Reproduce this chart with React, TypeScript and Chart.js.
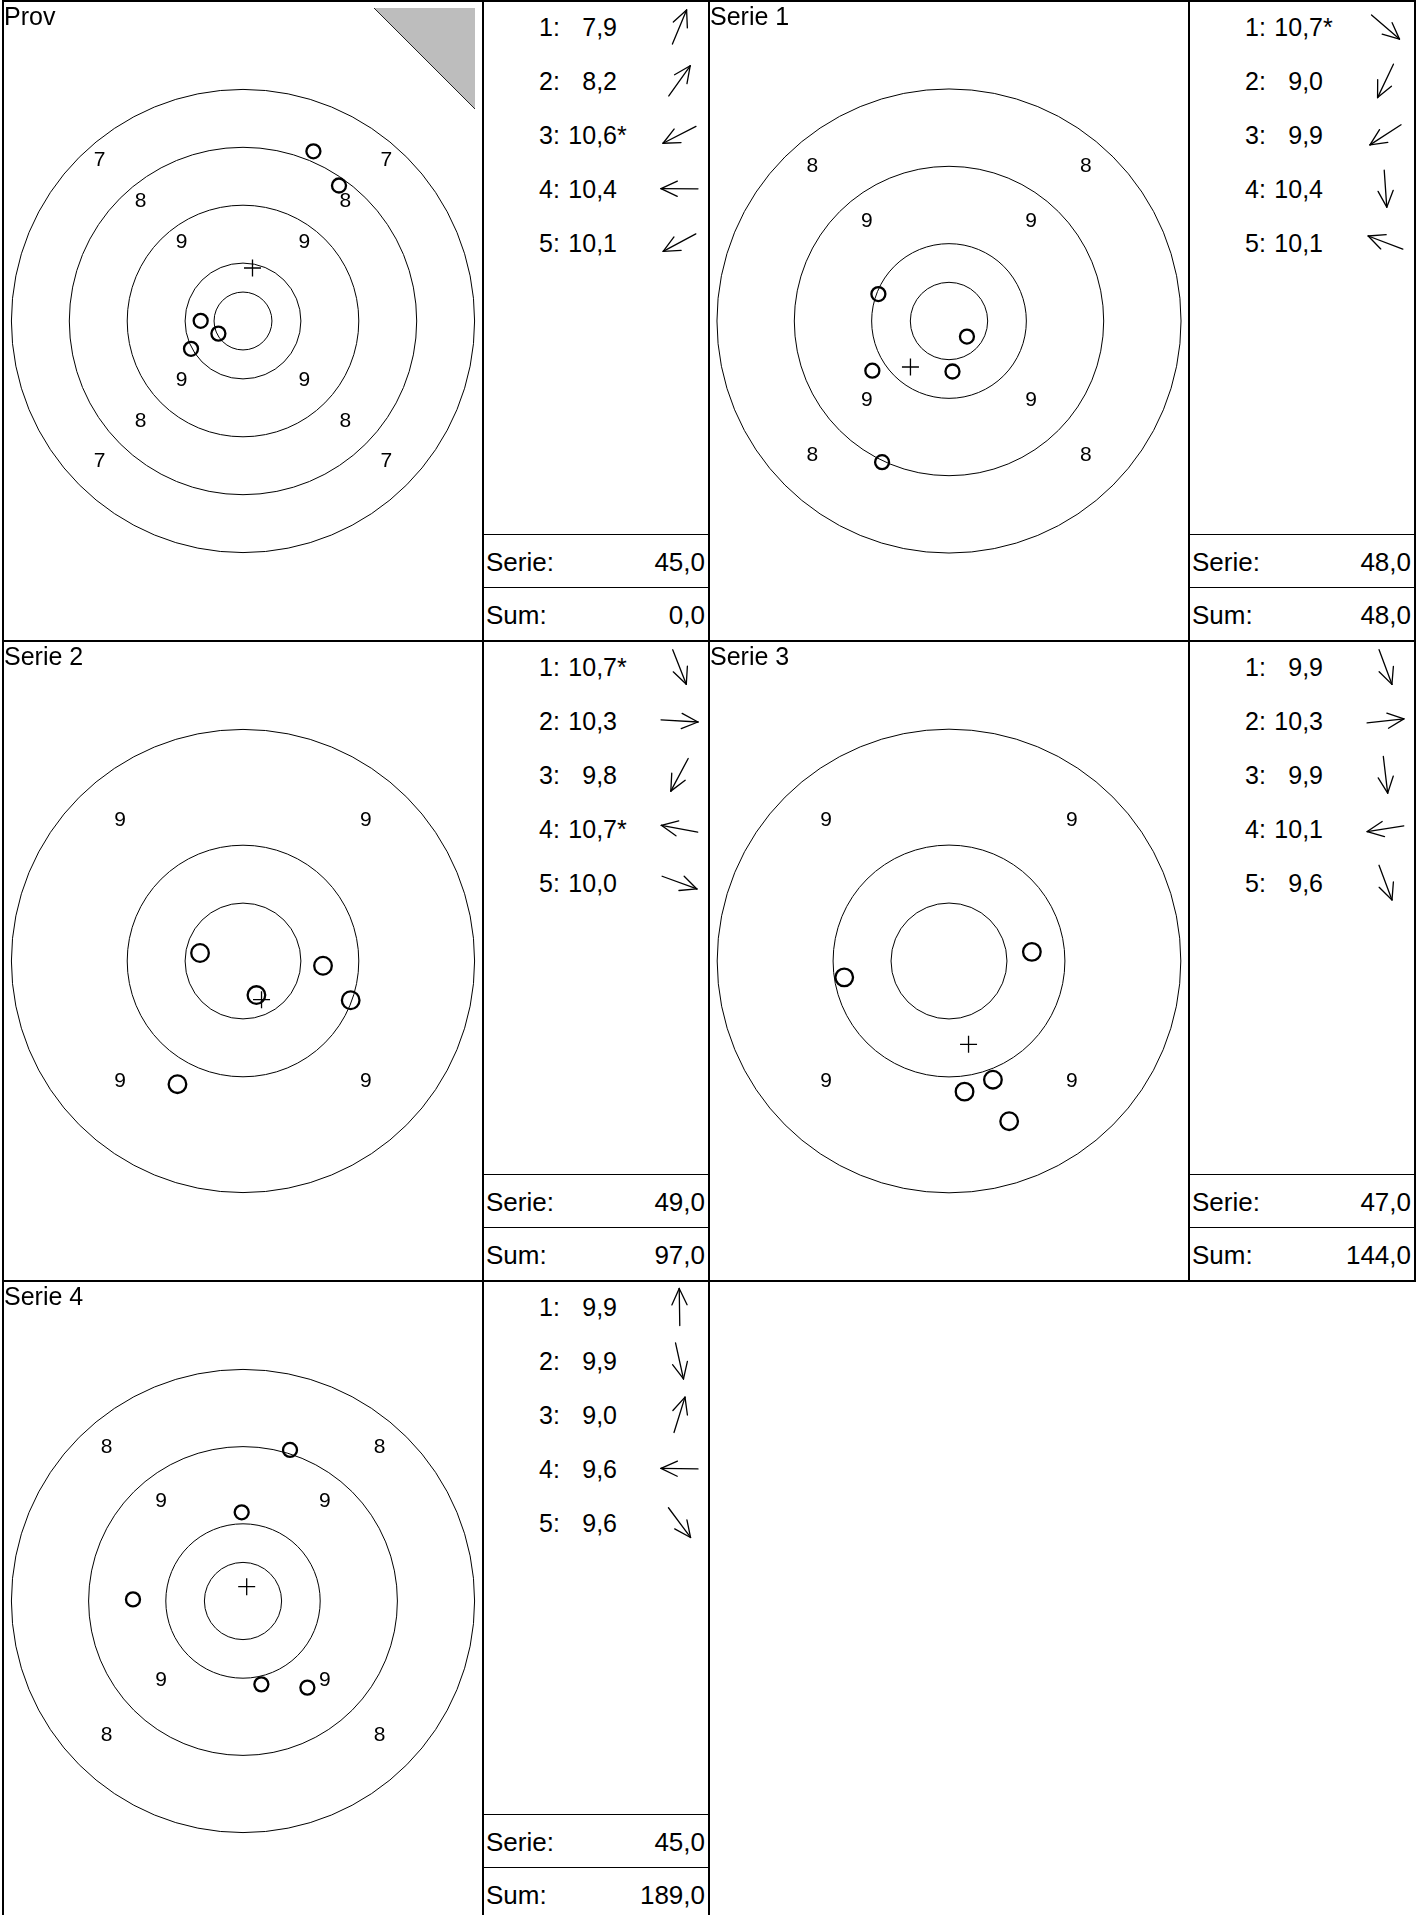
import React, { useEffect, useRef } from "react";
import { Chart, registerables } from "chart.js";

Chart.register(...registerables);

// ---------------- data ----------------
const panelTitles = ["Prov", "Serie 1", "Serie 2", "Serie 3", "Serie 4"];
const shotNumbers = [1, 2, 3, 4, 5];

const shotScores = [
  [7.9, 8.2, 10.6, 10.4, 10.1],
  [10.7, 9.0, 9.9, 10.4, 10.1],
  [10.7, 10.3, 9.8, 10.7, 10.0],
  [9.9, 10.3, 9.9, 10.1, 9.6],
  [9.9, 9.9, 9.0, 9.6, 9.6],
];
const innerTenHits = [
  [false, false, true, false, false],
  [true, false, false, false, false],
  [true, false, false, true, false],
  [false, false, false, false, false],
  [false, false, false, false, false],
];
// shot positions in ring widths from the centre (x right, y up)
const shotX = [
  [1.216, 1.658, -0.425, -0.731, -0.898],
  [0.232, -0.865, -0.991, 0.045, -0.913],
  [0.116, 0.691, -0.566, -0.371, 0.93],
  [0.379, 0.715, 0.134, -0.904, 0.519],
  [-0.017, 0.238, 0.609, -1.425, 0.834],
];
const shotY = [
  [2.931, 2.34, -0.218, 0.003, -0.48],
  [-0.201, -1.825, -0.642, -0.653, 0.348],
  [-0.294, -0.041, -1.064, 0.069, -0.339],
  [-1.024, 0.079, -1.127, -0.141, -1.382],
  [1.149, -1.08, 1.957, 0.021, -1.122],
];
const serieTotals = [45.0, 48.0, 49.0, 47.0, 45.0];
const runningSums = [0.0, 48.0, 97.0, 144.0, 189.0];
const lowestRing = [7, 8, 9, 9, 8];
const viewHalfWidth = [4.128, 3.09, 2.064, 2.062, 3.096];
const sighterPanels = [true, false, false, false, false];
const innerTenRadius = 0.5;

// ---------------- styles ----------------
const FONT = "'Liberation Sans', Arial, Helvetica, sans-serif";
const PANEL_W = 706;
const PANEL_H = 640;
const CANVAS_W = 478;
const CANVAS_H = 638;
const markerRadius = [7, 7, 8.8, 8.8, 7];

const fmt = (v: number) => v.toFixed(1).replace(".", ",");
const avg = (a: number[]) => a.reduce((s, v) => s + v, 0) / a.length;

const targetPlugin = {
  id: "target",
  beforeDatasetsDraw(chart: any, _args: any, opts: any) {
    const { ctx, chartArea, scales } = chart;
    const xs = scales.x;
    const ys = scales.y;
    const cx = xs.getPixelForValue(0);
    const cy = ys.getPixelForValue(0);
    ctx.save();
    if (opts.sighter) {
      const R = chartArea.right;
      const T = chartArea.top;
      ctx.beginPath();
      ctx.moveTo(R - 108, T + 6);
      ctx.lineTo(R - 7, T + 6);
      ctx.lineTo(R - 7, T + 107);
      ctx.closePath();
      ctx.fillStyle = "#bdbdbd";
      ctx.fill();
      ctx.beginPath();
      ctx.moveTo(R - 108, T + 6);
      ctx.lineTo(R - 7, T + 107);
      ctx.strokeStyle = "#222";
      ctx.lineWidth = 1;
      ctx.stroke();
    }
    ctx.strokeStyle = "#000";
    ctx.lineWidth = 1;
    const radii: number[] = [];
    for (let n = opts.lowest; n <= 10; n++) radii.push(11 - n);
    radii.push(innerTenRadius);
    radii.forEach((r) => {
      const rx = xs.getPixelForValue(r) - cx;
      const ry = cy - ys.getPixelForValue(r);
      ctx.beginPath();
      ctx.ellipse(cx, cy, rx, ry, 0, 0, Math.PI * 2);
      ctx.stroke();
    });
    ctx.fillStyle = "#000";
    ctx.font = `21px ${FONT}`;
    ctx.textAlign = "center";
    ctx.textBaseline = "middle";
    for (let n = opts.lowest; n <= 9; n++) {
      const m = (10.5 - n) * Math.SQRT1_2;
      for (const sx of [-1, 1]) {
        for (const sy of [1, -1]) {
          const px = xs.getPixelForValue(sx * m);
          const py = ys.getPixelForValue(sy * m) + (sy > 0 ? -17.7 : -2.6);
          ctx.fillText(String(n), px, py);
        }
      }
    }
    ctx.restore();
  },
};

function TargetChart({ idx }: { idx: number }) {
  const ref = useRef<HTMLCanvasElement>(null);
  useEffect(() => {
    const canvas = ref.current as HTMLCanvasElement;
    const hw = viewHalfWidth[idx];
    const hh = (hw * CANVAS_H) / CANVAS_W;
    const shots = shotX[idx].map((x, i) => ({ x, y: shotY[idx][i] }));
    const mean = { x: avg(shotX[idx]), y: avg(shotY[idx]) };
    const chart = new Chart(canvas, {
      type: "scatter",
      data: {
        datasets: [
          {
            label: "Skudd",
            data: shots,
            pointStyle: "circle",
            pointRadius: markerRadius[idx],
            pointBorderWidth: 2.3,
            pointBorderColor: "#000",
            pointBackgroundColor: "rgba(0,0,0,0)",
            borderColor: "#000",
            backgroundColor: "rgba(0,0,0,0)",
          },
          {
            label: "Treffpunkt",
            data: [mean],
            pointStyle: "cross",
            pointRadius: 8.5,
            pointBorderWidth: 1.3,
            pointBorderColor: "#000",
            borderColor: "#000",
          },
        ],
      } as any,
      options: {
        animation: false,
        responsive: false,
        maintainAspectRatio: false,
        devicePixelRatio: 1,
        events: [],
        layout: { padding: 0, autoPadding: false },
        plugins: {
          legend: { display: false },
          tooltip: { enabled: false },
          title: { display: false },
          target: { lowest: lowestRing[idx], sighter: sighterPanels[idx] },
        } as any,
        scales: {
          x: { type: "linear", min: -hw, max: hw, display: false },
          y: { type: "linear", min: -hh, max: hh, display: false },
        },
      } as any,
      plugins: [targetPlugin],
    });
    return () => chart.destroy();
  }, [idx]);
  return (
    <canvas
      ref={ref}
      width={CANVAS_W}
      height={CANVAS_H}
      style={{ position: "absolute", left: 0, top: 0, width: CANVAS_W, height: CANVAS_H }}
    />
  );
}

function Arrow({ angle, cx, cy }: { angle: number; cx: number; cy: number }) {
  const half = 18.5;
  const head = 18;
  const spread = (25 * Math.PI) / 180;
  const dx = Math.cos(angle);
  const dy = -Math.sin(angle);
  const tx = cx + dx * half;
  const ty = cy + dy * half;
  const sx = cx - dx * half;
  const sy = cy - dy * half;
  const back = Math.atan2(-dy, -dx);
  const h1x = tx + head * Math.cos(back + spread);
  const h1y = ty + head * Math.sin(back + spread);
  const h2x = tx + head * Math.cos(back - spread);
  const h2y = ty + head * Math.sin(back - spread);
  return (
    <g stroke="#000" strokeWidth={1.3} fill="none" strokeLinecap="round">
      <line x1={sx} y1={sy} x2={tx} y2={ty} />
      <line x1={tx} y1={ty} x2={h1x} y2={h1y} />
      <line x1={tx} y1={ty} x2={h2x} y2={h2y} />
    </g>
  );
}

function ScoreTable({ idx }: { idx: number }) {
  const rowY = (i: number) => 25 + 53.9 * i;
  const textStyle: React.CSSProperties = {
    position: "absolute",
    fontFamily: FONT,
    fontSize: 25,
    lineHeight: "30px",
    height: 30,
    color: "#000",
    whiteSpace: "pre",
  };
  return (
    <div style={{ position: "absolute", left: 480, top: 0, width: 224, height: 638 }}>
      {shotNumbers.map((n, i) => (
        <React.Fragment key={n}>
          <div style={{ ...textStyle, left: 55, top: rowY(i) - 15 }}>{`${n}:`}</div>
          <div style={{ ...textStyle, left: 70, width: 63, textAlign: "right", top: rowY(i) - 15 }}>
            {fmt(shotScores[idx][i])}
          </div>
          {innerTenHits[idx][i] ? (
            <div style={{ ...textStyle, left: 133, top: rowY(i) - 15 }}>*</div>
          ) : null}
        </React.Fragment>
      ))}
      <svg width={224} height={300} style={{ position: "absolute", left: 0, top: 0 }}>
        {shotNumbers.map((n, i) => (
          <Arrow
            key={n}
            angle={Math.atan2(shotY[idx][i], shotX[idx][i])}
            cx={195.5}
            cy={rowY(i)}
          />
        ))}
      </svg>
      <div style={{ position: "absolute", left: 0, top: 532, width: 224, height: 1, background: "#000" }} />
      <div style={{ position: "absolute", left: 0, top: 585, width: 224, height: 1, background: "#000" }} />
      <div style={{ ...textStyle, fontSize: 26, left: 2, top: 559.5 - 15 }}>Serie:</div>
      <div style={{ ...textStyle, fontSize: 26, left: 100, width: 121, textAlign: "right", top: 559.5 - 15 }}>
        {fmt(serieTotals[idx])}
      </div>
      <div style={{ ...textStyle, fontSize: 26, left: 2, top: 613 - 15 }}>Sum:</div>
      <div style={{ ...textStyle, fontSize: 26, left: 100, width: 121, textAlign: "right", top: 613 - 15 }}>
        {fmt(runningSums[idx])}
      </div>
    </div>
  );
}

function Panel({ idx }: { idx: number }) {
  const c = idx % 2;
  const r = Math.floor(idx / 2);
  const x0 = 3 + c * PANEL_W;
  const y0 = 1 + r * PANEL_H;
  return (
    <div
      style={{
        position: "absolute",
        left: x0 - 1,
        top: y0 - 1,
        width: PANEL_W + 2,
        height: PANEL_H + 2,
        border: "2px solid #000",
        boxSizing: "border-box",
        background: "#fff",
      }}
    >
      <TargetChart idx={idx} />
      <div
        style={{
          position: "absolute",
          left: 0,
          top: 2,
          fontFamily: FONT,
          fontSize: 25,
          lineHeight: "25px",
          color: "#000",
          whiteSpace: "pre",
        }}
      >
        {panelTitles[idx]}
      </div>
      <div style={{ position: "absolute", left: 478, top: 0, width: 2, height: 638, background: "#000" }} />
      <ScoreTable idx={idx} />
    </div>
  );
}

export default function App() {
  return (
    <div style={{ position: "relative", width: 1423, height: 1915, overflow: "hidden", background: "#fff" }}>
      <style>{"html,body{margin:0;padding:0;overflow:hidden;background:#fff}"}</style>
      {panelTitles.map((t, i) => (
        <Panel key={t} idx={i} />
      ))}
    </div>
  );
}
